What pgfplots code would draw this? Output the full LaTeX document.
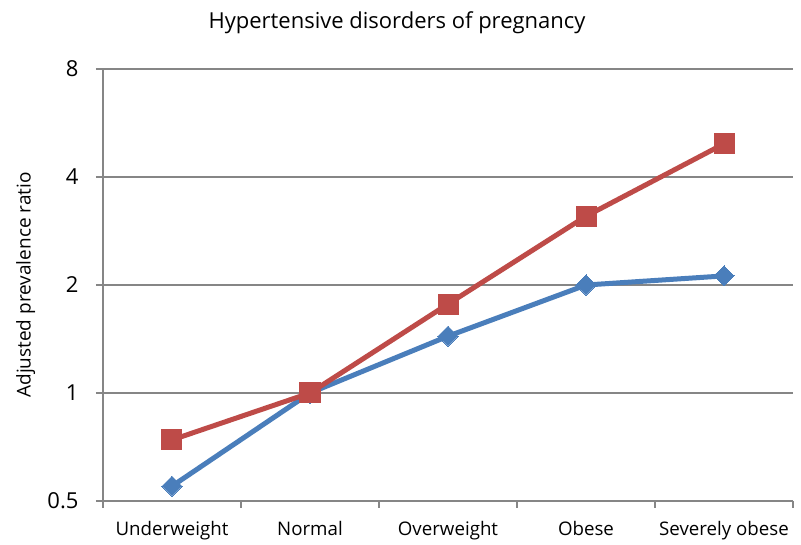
\documentclass[border=0pt]{standalone}
\usepackage{pgfplots}
\pgfplotsset{compat=1.18}
\usepackage{fontspec}
\setmainfont{Open Sans}
\definecolor{sblue}{HTML}{4A7EBB}
\definecolor{sred}{HTML}{BE4B48}
\definecolor{gridgray}{HTML}{868686}
\begin{document}
\begin{tikzpicture}[x=1pt,y=1pt]
\useasboundingbox (0,0) rectangle (801,545);
\node[font=\fontsize{22}{24}\selectfont] at (397,522) {Hypertensive disorders of pregnancy};
\begin{axis}[
  at={(103pt,44pt)}, anchor=south west,
  scale only axis, width=690pt, height=432pt,
  xmin=-0.5, xmax=4.5,
  ymode=log, log basis y=2, ymin=0.5, ymax=8,
  ytick={0.5,1,2,4,8}, yticklabels={0.5,1,2,4,8},
  xtick={0,1,2,3,4},
  xticklabels={Underweight,Normal,Overweight,Obese,Severely obese},
  minor xtick={-0.5,0.5,1.5,2.5,3.5,4.5},
  axis x line*=bottom, axis y line*=left,
  axis line style={gridgray, line width=1.2pt, -},
  ymajorgrids, grid style={gridgray, line width=1.2pt},
  major x tick style={draw=none},
  minor x tick style={gridgray, line width=1.2pt},
  ytick style={gridgray, line width=1.2pt},
  tick align=outside,
  major tick length=7pt, minor tick length=7pt,
  yticklabel style={font=\fontsize{22}{24}\selectfont, xshift=-14pt},
  xticklabel style={font=\fontsize{18.7}{20}\selectfont, yshift=-10pt},
  ylabel={Adjusted prevalence ratio},
  ylabel style={font=\fontsize{19}{21}\selectfont, at={(axis description cs:-0.112,0.5)}, anchor=center},
  /pgf/number format/assume math mode=true,
  clip=false,
]
\addplot[sblue, line width=5pt, mark=square*, mark size=7.1pt, mark options={line width=0pt, fill=sblue, draw=sblue, rotate=45}]
coordinates {(0,0.55) (1,1) (2,1.44) (3,2.0) (4,2.12)};
\addplot[sred, line width=5pt, mark=square*, mark size=10pt, mark options={line width=0pt, fill=sred, draw=sred}]
coordinates {(0,0.74) (1,1) (2,1.77) (3,3.11) (4,4.95)};
\end{axis}
\end{tikzpicture}
\end{document}
